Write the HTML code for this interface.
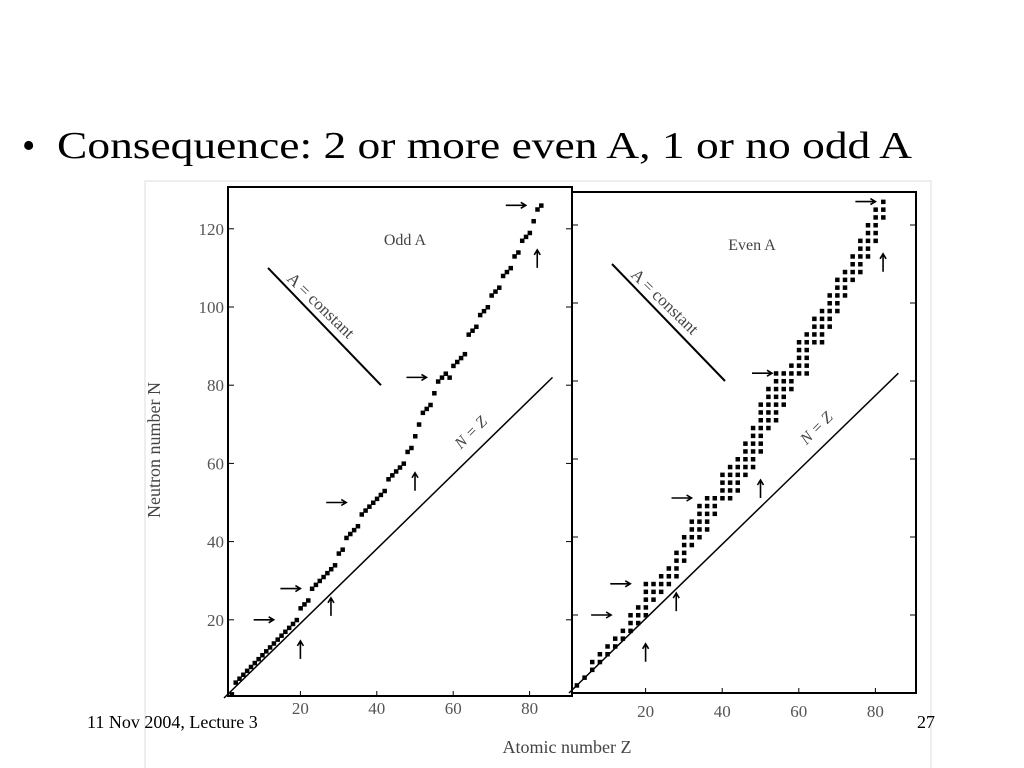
<!DOCTYPE html>
<html><head><meta charset="utf-8"><style>
body{margin:0;width:1024px;height:768px;background:#fff;overflow:hidden;font-family:"Liberation Serif",serif}
svg{position:absolute;left:0;top:0}
</style></head><body>
<svg width="1024" height="768" font-family="Liberation Serif, serif">
<text x="22" y="158" font-size="38">•</text>
<text x="57" y="158" font-size="38" textLength="855" lengthAdjust="spacingAndGlyphs">Consequence: 2 or more even A, 1 or no odd A</text>
<rect x="145" y="181" width="786" height="590" fill="none" stroke="#ddd"/>
<g id="plot" stroke="#000" fill="none"></g>
<text x="87" y="728" font-size="18">11 Nov 2004, Lecture 3</text>
<text x="917" y="728" font-size="18">27</text>
<text x="567" y="753" font-size="18" text-anchor="middle" fill="#444">Atomic number Z</text>
<text transform="translate(160,450) rotate(-90)" font-size="18" text-anchor="middle" fill="#444">Neutron number N</text>
</svg>
<script>
const oddZ=[2,3,4,5,6,7,8,9,10,11,12,13,14,15,16,17,18,19,20,21,22,23,24,25,26,27,28,29,30,31,32,33,34,35,36,37,38,39,40,41,42,43,44,45,46,47,48,49,50,51,52,53,54,55,56,57,58,59,60,61,62,63,64,65,66,67,68,69,70,71,72,73,74,75,76,77,78,79,80,81,82,83];
const oddN=[1,4,5,6,7,8,9,10,11,12,13,14,15,16,17,18,19,20,23,24,25,28,29,30,31,32,33,34,37,38,41,42,43,44,47,48,49,50,51,52,53,56,57,58,59,60,63,64,67,70,73,74,75,78,81,82,83,82,85,86,87,88,93,94,95,98,99,100,103,104,105,108,109,110,113,114,117,118,119,122,125,126];
const evenZ=[2,4,6,8,10,12,14,16,18,20,22,24,26,28,30,32,34,36,38,40,42,44,46,48,50,52,54,56,58,60,62,64,66,68,70,72,74,76,78,80,82];
const evenNmin=[2,4,6,8,10,12,14,16,18,20,24,26,28,30,34,38,40,42,46,50,50,52,56,58,62,68,70,74,78,82,82,90,90,94,98,102,106,108,112,116,122];
const evenNmax=[2,4,8,10,12,14,16,20,22,28,28,30,32,36,40,44,48,50,50,56,58,60,64,68,74,78,82,82,84,90,92,96,98,102,106,108,112,116,120,124,126];
const xTicks=[20,40,60,80];
const yTicks=[20,40,60,80,100,120];
const magicN=[20,28,50,82,126];
const hArrowEndZ=[[13,20,32,53,79],[11,16,32,53,80]];
const magicZ=[20,28,50,82];
const vArrowBaseN=[[10,21,53,110],[8,21,50,108]];
const NS='http://www.w3.org/2000/svg';
const g=document.getElementById('plot');
function mk(t,a,p){const e=document.createElementNS(NS,t);for(const k in a)e.setAttribute(k,a[k]);(p||g).appendChild(e);return e;}
const panels=[{x0:224,y0:698,sx:3.82,sy:3.91,box:[228,187,572,696],label:'Odd A',lx:405,ly:245,ty:18},
{x0:569,y0:693,sx:3.83,sy:3.9,box:[572,192,916,693],label:'Even A',lx:752,ly:250,ty:24}];
panels.forEach((P,pi)=>{
 const X=z=>P.x0+z*P.sx, Y=n=>P.y0-n*P.sy;
 const b=P.box;
 const fr=mk('rect',{x:b[0],y:b[1],width:b[2]-b[0],height:b[3]-b[1],'stroke-width':2});
 
 
 xTicks.forEach(t=>{
  const l=mk('line',{x1:X(t),x2:X(t),y1:b[3],y2:b[3]-5});
  
  
  const tx=mk('text',{x:X(t),y:b[3]+P.ty,'font-size':17,'text-anchor':'middle',fill:'#555',stroke:'none'});
  tx.textContent=t;
  
  
 });
 yTicks.forEach(t=>{
  const l=mk('line',{x1:b[0],x2:b[0]+6,y1:Y(t),y2:Y(t)});
  
  
  const l2=mk('line',{x1:b[2],x2:b[2]-6,y1:Y(t),y2:Y(t)});
  
  
  if(pi===0){
   const tx=mk('text',{x:b[0]-4,y:Y(t)+6,'font-size':17,'text-anchor':'end',fill:'#555',stroke:'none'});
   tx.textContent=t;
   
   
  }
 });
 const nz=mk('line',{x1:X(0),y1:Y(0),x2:X(86),y2:Y(82),'stroke-width':1.5});
 
 
 const nzt=mk('text',{transform:`translate(${X(62)},${Y(62)-6}) rotate(-45)`,'font-size':16,'font-style':'italic',fill:'#444',stroke:'none'});
 nzt.textContent='N = Z';
 
 
 const ac=mk('line',{x1:b[0]+40,y1:Y(110),x2:b[0]+153,y2:Y(80),'stroke-width':2});
 
 
 const act=mk('text',{transform:`translate(${b[0]+58},${Y(107)}) rotate(44)`,'font-size':17,fill:'#444',stroke:'none'});
 act.textContent='A = constant';
 
 
 const pl=mk('text',{x:P.lx,y:P.ly,'font-size':16,'text-anchor':'middle',fill:'#444',stroke:'none'});
 pl.textContent=P.label;
 
 
 magicN.forEach((n,i)=>{
  const ex=X(hArrowEndZ[pi][i]);
  const a=mk('path',{d:`M${ex-20} ${Y(n)}h20m-5,-3l5,3l-5,3`,'stroke-width':1.6});
  
  
 });
 magicZ.forEach((z,i)=>{
  const a=mk('path',{d:`M${X(z)} ${Y(vArrowBaseN[pi][i])}v-18m-3,5l3,-5l3,5`,'stroke-width':1.6});
  
  
 });
 if(pi===0){
  oddZ.forEach((z,i)=>{
   const r=mk('rect',{x:X(z)-2,y:Y(oddN[i])-2,width:4.5,height:4.5,fill:'#000',stroke:'none'});
   
   
  });
 } else {
  evenZ.forEach((z,i)=>{
   for(let n=evenNmin[i];n<=evenNmax[i];n+=2){
    const r=mk('rect',{x:X(z)-2,y:Y(n)-2,width:4.5,height:4.5,fill:'#000',stroke:'none'});
    
    
   }
  });
 }
});
</script>
</body></html>
